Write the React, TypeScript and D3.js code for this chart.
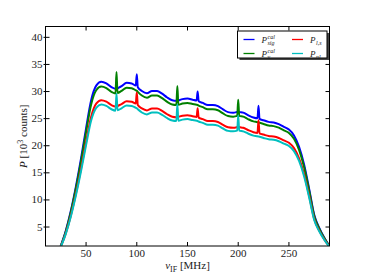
import React from 'react';
import * as d3 from 'd3';

// frequency grid in MHz (extra points around the narrow spikes)
const freqs = [
  25, 30, 35, 40, 45, 50, 55, 60, 65, 70,
  75, 79, 80, 81, 85, 90, 95, 99, 100, 101,
  105, 110, 115, 120, 125, 130, 135, 139, 140, 141,
  145, 150, 155, 159, 160, 161, 165, 170, 175, 180,
  185, 190, 195, 199, 200, 201, 205, 210, 215, 219,
  220, 221, 225, 230, 235, 240, 245, 250, 255, 260,
  265, 270, 275, 280, 285, 290,
];

const pCalSig = [
  1.5, 4.3, 8.0, 12.5, 17.6, 23.2, 28.4, 31.1, 31.8, 31.5,
  30.8, 30.5, 30.5, 30.6, 31.0, 31.6, 31.5, 31.1, 33.2, 30.8,
  30.1, 29.7, 30.1, 30.1, 29.6, 28.9, 28.4, 28.3, 28.3, 28.35,
  28.6, 28.7, 28.5, 28.35, 30.0, 28.2, 27.9, 27.5, 27.5, 27.3,
  26.7, 26.2, 26.1, 26.25, 26.3, 26.25, 26.1, 25.6, 25.2, 25.05,
  27.4, 24.95, 24.7, 24.4, 24.3, 24.0, 23.5, 23.0, 21.9, 19.8,
  16.5, 12.0, 7.2, 4.8, 3.0, 1.5,
];

const pCalNu = [
  1.46, 4.18, 7.78, 12.15, 17.11, 22.55, 27.6, 30.23, 30.91, 30.62,
  29.94, 29.65, 33.6, 29.74, 30.13, 30.72, 30.62, 30.23, 30.13, 29.94,
  29.26, 28.87, 29.26, 29.26, 28.77, 28.09, 27.6, 27.51, 31.0, 27.56,
  27.8, 27.9, 27.7, 27.56, 27.51, 27.41, 27.12, 26.73, 26.73, 26.54,
  25.95, 25.47, 25.37, 25.51, 28.5, 25.51, 25.37, 24.88, 24.49, 24.35,
  24.3, 24.25, 24.01, 23.72, 23.62, 23.33, 22.84, 22.36, 21.29, 19.25,
  16.04, 11.66, 7.0, 4.67, 2.92, 1.46,
];

const pLs = [
  1.34, 3.84, 7.14, 11.16, 15.72, 20.72, 25.36, 27.77, 28.4, 28.13,
  27.5, 27.24, 27.24, 27.33, 27.68, 28.22, 28.13, 27.77, 29.8, 27.5,
  26.88, 26.52, 26.88, 26.88, 26.43, 25.81, 25.36, 25.27, 25.27, 25.32,
  25.54, 25.63, 25.45, 25.32, 26.9, 25.18, 24.91, 24.56, 24.56, 24.38,
  23.84, 23.4, 23.31, 23.44, 23.49, 23.44, 23.31, 22.86, 22.5, 22.37,
  24.7, 22.28, 22.06, 21.79, 21.7, 21.43, 20.99, 20.54, 19.56, 17.68,
  14.73, 10.72, 6.43, 4.29, 2.68, 1.34,
];

const pNl = [
  1.3, 3.73, 6.94, 10.85, 15.28, 20.14, 24.65, 27.0, 27.6, 27.34,
  26.73, 26.47, 29.6, 26.56, 26.91, 27.43, 27.34, 27.0, 26.91, 26.73,
  26.13, 25.78, 26.13, 26.13, 25.69, 25.09, 24.65, 24.56, 27.6, 24.61,
  24.82, 24.91, 24.74, 24.61, 24.56, 24.47, 24.22, 23.87, 23.87, 23.7,
  23.18, 22.74, 22.65, 22.78, 25.6, 22.78, 22.65, 22.22, 21.87, 21.74,
  21.7, 21.66, 21.44, 21.18, 21.09, 20.83, 20.4, 19.96, 19.01, 17.19,
  14.32, 10.42, 6.25, 4.17, 2.6, 1.3,
];

const xTicks = [50, 100, 150, 200, 250];
const yTicks = [5, 10, 15, 20, 25, 30, 35, 40];

const W = 366, H = 274;
const margin = { left: 45.5, top: 26.5, right: 36.5, bottom: 28 };
const serif = "'Liberation Serif', 'DejaVu Serif', serif";

const series = [
  { values: pCalSig, color: '#0000ff', sup: 'cal', sub: 'sig' },
  { values: pCalNu, color: '#008000', sup: 'cal', sub: 'ν' },
  { values: pLs, color: '#ff0000', sup: '', sub: 'l,s' },
  { values: pNl, color: '#00bfbf', sup: '', sub: 'nl' },
];

export default function App() {
  const iw = W - margin.left - margin.right;
  const ih = H - margin.top - margin.bottom;
  const x = d3.scaleLinear().domain([10, 290]).range([0, iw]);
  const y = d3.scaleLinear().domain([1.5, 42]).range([ih, 0]);

  const line = d3.line<number>()
    .x((_, i) => x(freqs[i]))
    .y(d => y(d))
    .curve(d3.curveMonotoneX);

  // legend layout
  const lx = 192, ly = 4.5, lw = 89.5, lh = 27;

  return (
    <svg width={W} height={H} style={{ position: 'absolute', left: 0, top: 0, background: '#fff' }}>
      <defs>
        <clipPath id="plotclip">
          <rect x={0} y={0} width={iw} height={ih} />
        </clipPath>
      </defs>
      <g transform={`translate(${margin.left},${margin.top})`}>
        <g clipPath="url(#plotclip)">
          {series.map((s, i) => (
            <path key={i} d={line(s.values) || ''} fill="none" stroke={s.color}
              strokeWidth={2} strokeLinejoin="round" />
          ))}
        </g>
        <rect x={0} y={0} width={iw} height={ih} fill="none" stroke="#000" strokeWidth={1} />

        {xTicks.map(t => (
          <g key={t} transform={`translate(${x(t)},0)`}>
            <line y1={ih} y2={ih - 4} stroke="#000" />
            <line y1={0} y2={4} stroke="#000" />
            <text y={ih + 11} textAnchor="middle" fontFamily={serif} fontSize={11} fill="#222">{t}</text>
          </g>
        ))}
        {yTicks.map(t => (
          <g key={t} transform={`translate(0,${y(t)})`}>
            <line x1={-2} x2={4} stroke="#000" />
            <line x1={iw} x2={iw - 4} stroke="#000" />
            <text x={-3} dy="0.32em" textAnchor="end" fontFamily={serif} fontSize={11} fill="#222">{t}</text>
          </g>
        ))}

        <text x={iw / 2} y={ih + 23} textAnchor="middle" fontFamily={serif} fontSize={11} fill="#222">
          <tspan fontStyle="italic">ν</tspan>
          <tspan fontSize={8} dy={2.5}>IF</tspan>
          <tspan dy={-2.5}> [MHz]</tspan>
        </text>
        <text transform={`translate(${-18.5},${ih / 2}) rotate(-90)`} textAnchor="middle"
          fontFamily={serif} fontSize={11} fill="#222">
          <tspan fontStyle="italic">P</tspan>
          <tspan> [10</tspan>
          <tspan fontSize={8} dy={-4}>3</tspan>
          <tspan dy={4}> counts]</tspan>
        </text>

        {/* legend */}
        <rect x={lx + 2} y={ly + 2} width={lw} height={lh} fill="#444" />
        <rect x={lx} y={ly} width={lw} height={lh} fill="#fff" stroke="#000" strokeWidth={1} />
        {series.map((s, i) => {
          const col = i < 2 ? 0 : 1;
          const row = i % 2;
          const sx = lx + 6 + col * 48.5;
          const sy = ly + 8.5 + row * 14;
          return (
            <g key={i}>
              <line x1={sx} x2={sx + 11} y1={sy} y2={sy} stroke={s.color} strokeWidth={1.3} />
              <text x={sx + 18} y={sy + 3} fontFamily={serif} fontSize={9} fontStyle="italic" fill="#222">P</text>
              {s.sup && (
                <text x={sx + 24} y={sy - 1} fontFamily={serif} fontSize={6} fontStyle="italic" fill="#222">{s.sup}</text>
              )}
              <text x={sx + 24} y={sy + 5} fontFamily={serif} fontSize={6} fontStyle="italic" fill="#222">{s.sub}</text>
            </g>
          );
        })}
      </g>
    </svg>
  );
}
